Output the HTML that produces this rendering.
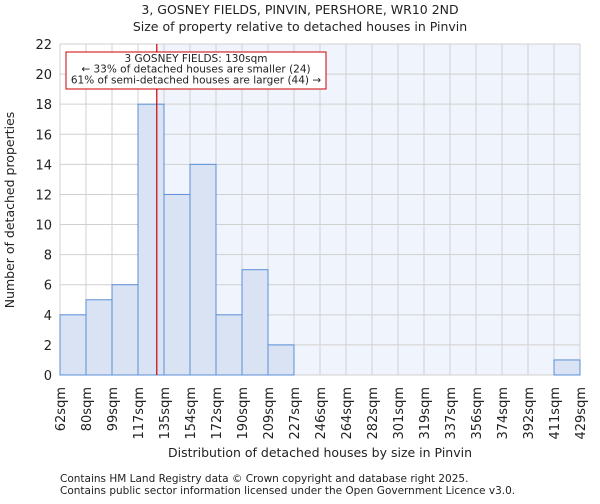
<!DOCTYPE html>
<html><head><meta charset="utf-8"><style>
body{margin:0;background:#fff;font-family:"DejaVu Sans","Liberation Sans",sans-serif;}
svg text{font-family:"DejaVu Sans","Liberation Sans",sans-serif;fill:#222;}
</style></head><body>
<svg id="chart" width="600" height="500" xmlns="http://www.w3.org/2000/svg">
<text x="300" y="14" text-anchor="middle" font-size="12.5">3, GOSNEY FIELDS, PINVIN, PERSHORE, WR10 2ND</text>
<text x="300" y="31" text-anchor="middle" font-size="12.5">Size of property relative to detached houses in Pinvin</text>
<g id="plot"></g>
<text x="320" y="457" text-anchor="middle" font-size="12.5">Distribution of detached houses by size in Pinvin</text>
<text transform="translate(14,210) rotate(-90)" text-anchor="middle" font-size="12.5">Number of detached properties</text>
<text x="60" y="482" font-size="10.5">Contains HM Land Registry data © Crown copyright and database right 2025.</text>
<text x="60" y="494" font-size="10.5">Contains public sector information licensed under the Open Government Licence v3.0.</text>
</svg>
<script>
const binLabels=["62sqm","80sqm","99sqm","117sqm","135sqm","154sqm","172sqm","190sqm","209sqm","227sqm","246sqm","264sqm","282sqm","301sqm","319sqm","337sqm","356sqm","374sqm","392sqm","411sqm","429sqm"];
const binEdges=[62,80,99,117,135,154,172,190,209,227,246,264,282,301,319,337,356,374,392,411,429];
const counts=[4,5,6,18,12,14,4,7,2,0,0,0,0,0,0,0,0,0,0,1];
const yTicks=[0,2,4,6,8,10,12,14,16,18,20,22];
const subjectSize=130;
const NS="http://www.w3.org/2000/svg";
const L=60,R=580,T=44,B=375,YMAX=22;
const n=binLabels.length-1;
const xi=i=>L+(R-L)*i/n;
function xv(v){for(let i=0;i<n;i++){if(v<=binEdges[i+1]){return xi(i)+(v-binEdges[i])/(binEdges[i+1]-binEdges[i])*(xi(i+1)-xi(i));}}return R;}
const y=v=>B-(B-T)*v/YMAX;
const g=document.getElementById('plot');
function mk(t,a){const e=document.createElementNS(NS,t);for(const k in a)e.setAttribute(k,a[k]);g.appendChild(e);return e;}
const sx=xv(subjectSize);
let bg=mk('rect',{x:sx,y:T,width:R-sx,height:B-T,fill:'#f0f4fd'});


for(let i=0;i<=n;i++){let l=mk('line',{x1:xi(i),x2:xi(i),y1:T,y2:B,stroke:'#d0d0d0','stroke-width':1});

}
yTicks.forEach(t=>{let l=mk('line',{x1:L,x2:R,y1:y(t),y2:y(t),stroke:'#d0d0d0','stroke-width':1});


let tx=mk('text',{x:L-8,y:y(t)+5,'text-anchor':'end','font-size':13});tx.textContent=t;

});
counts.forEach((c,i)=>{if(c<=0)return;let r=mk('rect',{x:xi(i),y:y(c),width:xi(i+1)-xi(i),height:B-y(c),fill:'#d9e3f4',stroke:'#5b8fd6','stroke-width':1});

});
binLabels.forEach((lb,i)=>{let tx=mk('text',{transform:`translate(${xi(i)+5},387) rotate(-90)`,'text-anchor':'end','font-size':13});tx.textContent=lb;

});
let rl=mk('line',{x1:sx,x2:sx,y1:T,y2:B,stroke:'#cc0000','stroke-width':1.2});


let box=mk('rect',{x:66,y:52,width:260,height:37,fill:'#fff',stroke:'#cc0000','stroke-width':1});


["3 GOSNEY FIELDS: 130sqm","← 33% of detached houses are smaller (24)","61% of semi-detached houses are larger (44) →"].forEach((s,k)=>{let tx=mk('text',{x:196,y:62+k*10.7,'text-anchor':'middle','font-size':10.5});tx.textContent=s;

});
</script>
</body></html>
